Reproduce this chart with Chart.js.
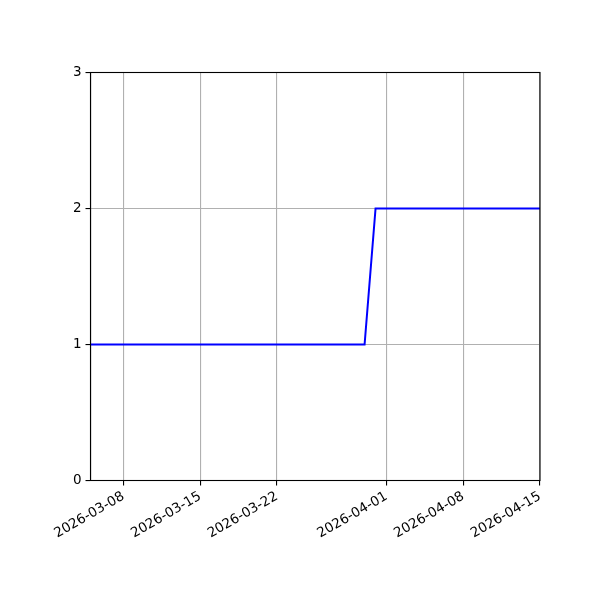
<!DOCTYPE html>
<html lang="en">
<head>
    <meta charset="UTF-8">
    <title>Step chart</title>
    <script src="https://cdn.jsdelivr.net/npm/chart.js"></script>
    <style>
        html, body { margin: 0; padding: 0; background: #fff; }
        #wrap { width: 600px; height: 600px; }
    </style>
</head>
<body>
    <div id="wrap"><canvas id="chart" width="600" height="600"></canvas></div>
    <script>
        // days counted from 2026-03-05 (left edge of the axis)
        const pointDays = [0, 25, 26, 41];
        const pointValues = [1, 1, 2, 2];
        const tickDays = [3, 10, 17, 27, 34, 41];
        const tickLabels = ['2026-03-08', '2026-03-15', '2026-03-22', '2026-04-01', '2026-04-08', '2026-04-15'];
        const yTicks = [0, 1, 2, 3];

        const boxPlugin = {
            id: 'box',
            afterDraw(chart) {
                const a = chart.chartArea;
                const ctx = chart.ctx;
                ctx.save();
                ctx.strokeStyle = '#000';
                ctx.lineWidth = 1.1;
                ctx.strokeRect(a.left, a.top, a.right - a.left, a.bottom - a.top);
                ctx.restore();
            }
        };

        const font = { family: 'DejaVu Sans', size: 13.5 };

        new Chart(document.getElementById('chart'), {
            type: 'line',
            data: {
                datasets: [{
                    data: pointDays.map((d, i) => ({ x: d, y: pointValues[i] })),
                    borderColor: '#0000ff',
                    borderWidth: 2,
                    pointRadius: 0,
                    tension: 0,
                    fill: false
                }]
            },
            options: {
                responsive: false,
                animation: false,
                layout: { padding: { top: 72.5, right: 60, left: 0, bottom: 0 } },
                plugins: { legend: { display: false }, tooltip: { enabled: false } },
                scales: {
                    x: {
                        type: 'linear',
                        min: 0,
                        max: 41,
                        afterBuildTicks: s => { s.ticks = tickDays.map(v => ({ value: v })); },
                        afterFit: s => { s.height = 119.5; },
                        ticks: {
                            callback: v => tickLabels[tickDays.indexOf(v)],
                            minRotation: 30,
                            maxRotation: 30,
                            color: '#000',
                            font: font,
                            padding: 3
                        },
                        grid: { color: '#b0b0b0', lineWidth: 1.1, tickColor: '#000', tickLength: 5 },
                        border: { color: '#000', width: 1.1 }
                    },
                    y: {
                        min: 0,
                        max: 3,
                        afterBuildTicks: s => { s.ticks = yTicks.map(v => ({ value: v })); },
                        afterFit: s => { s.width = 90.5; },
                        ticks: { color: '#000', font: font, padding: 4 },
                        grid: { color: '#b0b0b0', lineWidth: 1.1, tickColor: '#000', tickLength: 5 },
                        border: { color: '#000', width: 1.1 }
                    }
                }
            },
            plugins: [boxPlugin]
        });
    </script>
</body>
</html>
